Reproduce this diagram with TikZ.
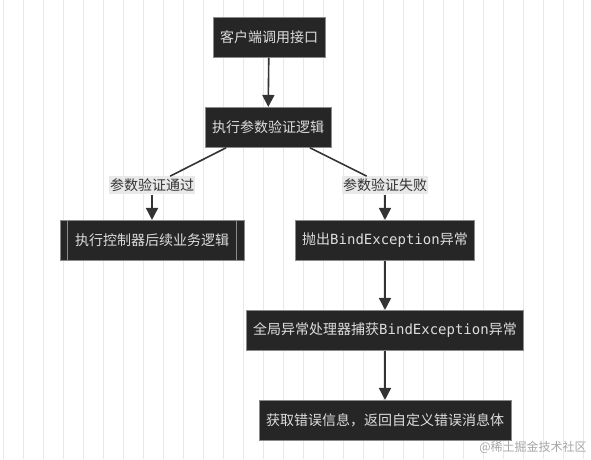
\documentclass[tikz,border=0pt]{standalone}
\usepackage{fontspec}
\setmainfont{Noto Sans CJK SC}
\setmonofont{DejaVu Sans Mono}
\usetikzlibrary{positioning, arrows.meta, calc}

\definecolor{boxfill}{HTML}{262626}
\definecolor{boxline}{HTML}{8A8A8A}
\definecolor{boxtext}{HTML}{DDDDDD}
\definecolor{labelbg}{HTML}{E9E9E9}
\definecolor{labeltext}{HTML}{333333}
\definecolor{linecol}{HTML}{333333}
\definecolor{gridcol}{HTML}{E8E8E8}

\begin{document}
\begin{tikzpicture}[x=1pt, y=-1pt,
    flowbox/.style={draw=boxline, fill=boxfill, text=boxtext, line width=0.8pt,
      minimum height=40pt, inner xsep=7pt, inner ysep=0pt,
      font=\fontsize{14}{16}\selectfont},
    edgelabel/.style={fill=labelbg, text=labeltext, inner xsep=1pt, inner ysep=2pt,
      minimum height=18pt, font=\fontsize{14}{16}\selectfont},
    flowline/.style={draw=linecol, line width=1.6pt},
    flowarrow/.style={flowline, -{Triangle[width=12pt, length=12pt]}},
    watermark/.style={text=black!35, font=\fontsize{12}{14}\selectfont}]

  % background with vertical rules
  \fill[white] (0,0) rectangle (591,459);
  \foreach \gx in {3,23,...,583}
    \draw[gridcol, line width=0.7pt] (\gx,0) -- (\gx,459);
  \useasboundingbox (0,0) rectangle (591,459);

  % nodes
  \node[flowbox] (client) at (269,37) {客户端调用接口};
  \node[flowbox] (verify) at (268,127) {执行参数验证逻辑};
  \node[edgelabel] (passlbl) at (152,185) {参数验证通过};
  \node[edgelabel] (faillbl) at (385,185) {参数验证失败};
  \node[flowbox, inner xsep=15pt] (ctrl) at (152,240) {执行控制器后续业务逻辑};
  \draw[boxline, line width=0.8pt] ([xshift=8pt]ctrl.north west) -- ([xshift=8pt]ctrl.south west);
  \draw[boxline, line width=0.8pt] ([xshift=-8pt]ctrl.north east) -- ([xshift=-8pt]ctrl.south east);
  \node[flowbox] (throw) at (385,240) {抛出\texttt{BindException}异常};
  \node[flowbox] (handler) at (385,330) {全局异常处理器捕获\texttt{BindException}异常};
  \node[flowbox] (result) at (385,420) {获取错误信息，返回自定义错误消息体};
  \node[watermark] (mark) at (533,447) {@稀土掘金技术社区};

  % connectors
  \draw[flowarrow] (client) -- (verify);
  \draw[flowline] ($(verify.south west)!0.17!(verify.south east)$) -- (passlbl);
  \draw[flowarrow] (passlbl) -- (ctrl);
  \draw[flowline] ($(verify.south west)!0.83!(verify.south east)$) -- (faillbl);
  \draw[flowarrow] (faillbl) -- (throw);
  \draw[flowarrow] (throw) -- (handler);
  \draw[flowarrow] (handler) -- (result);
\end{tikzpicture}
\end{document}
